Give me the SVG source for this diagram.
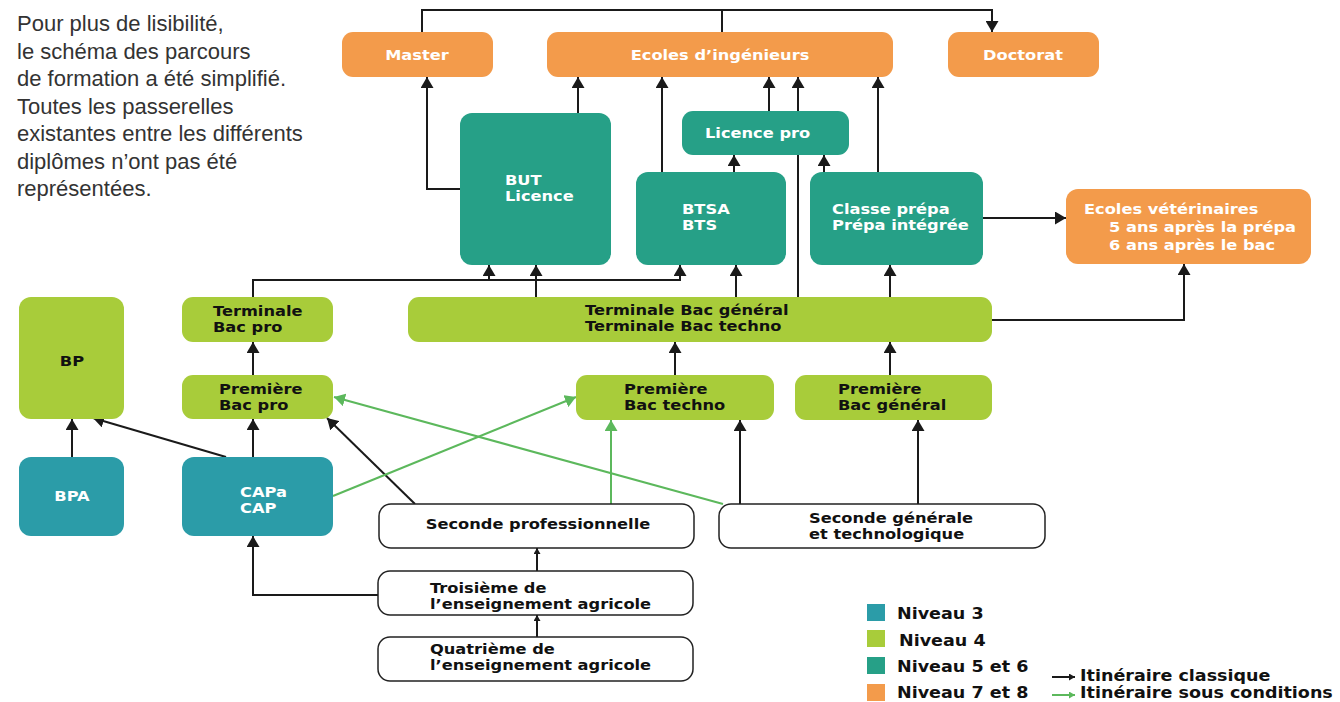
<svg xmlns="http://www.w3.org/2000/svg" width="1340" height="702" viewBox="0 0 1340 702">
<style>
.o{fill:#f39b4b}.g{fill:#a8cc3a}.t{fill:#26a087}.b{fill:#2b9ca8}.w{fill:#fff;stroke:#222;stroke-width:1.5}
.tx{font-family:"DejaVu Sans",Verdana,sans-serif;font-weight:bold;font-size:14px}
.wt{fill:#fff}.bk{fill:#111}
.c{fill:none;stroke:#1a1a1a;stroke-width:2}
.cg{fill:none;stroke:#5cb85c;stroke-width:2}
.p{font-family:"Liberation Sans",Arial,sans-serif;font-size:22px;fill:#333}
.lg{font-family:"DejaVu Sans",Verdana,sans-serif;font-weight:bold;font-size:15px;fill:#111}
</style>
<defs>
<marker id="ab" viewBox="0 0 10 10" refX="10" refY="5" markerWidth="11" markerHeight="13" markerUnits="userSpaceOnUse" orient="auto" preserveAspectRatio="none"><path d="M0,0 L10,5 L0,10 z" fill="#1a1a1a"/></marker>
<marker id="ag" viewBox="0 0 10 10" refX="10" refY="5" markerWidth="11" markerHeight="13" markerUnits="userSpaceOnUse" orient="auto" preserveAspectRatio="none"><path d="M0,0 L10,5 L0,10 z" fill="#5cb85c"/></marker>
<marker id="as" viewBox="0 0 10 10" refX="10" refY="5" markerWidth="6" markerHeight="7" markerUnits="userSpaceOnUse" orient="auto" preserveAspectRatio="none"><path d="M0,0 L10,5 L0,10 z" fill="#1a1a1a"/></marker>
<marker id="asg" viewBox="0 0 10 10" refX="10" refY="5" markerWidth="6" markerHeight="7" markerUnits="userSpaceOnUse" orient="auto" preserveAspectRatio="none"><path d="M0,0 L10,5 L0,10 z" fill="#5cb85c"/></marker>
</defs>
<rect width="1340" height="702" fill="#fff"/>

<g id="note">
<text class="p" x="17" y="31">Pour plus de lisibilité,</text>
<text class="p" x="17" y="58.5">le schéma des parcours</text>
<text class="p" x="17" y="86">de formation a été simplifié.</text>
<text class="p" x="17" y="113.5">Toutes les passerelles</text>
<text class="p" x="17" y="141">existantes entre les différents</text>
<text class="p" x="17" y="168.5">diplômes n’ont pas été</text>
<text class="p" x="17" y="196">représentées.</text>
</g>

<g id="connectors">
<path class="c" d="M422,32 V10 H992 V32" marker-end="url(#ab)"/>
<path class="c" d="M722,10 V32"/>
<path class="c" d="M460,189 H427 V77" marker-end="url(#ab)"/>
<path class="c" d="M578,113 V77" marker-end="url(#ab)"/>
<path class="c" d="M662,172 V77" marker-end="url(#ab)"/>
<path class="c" d="M769,111 V77" marker-end="url(#ab)"/>
<path class="c" d="M798,297 V77" marker-end="url(#ab)"/>
<path class="c" d="M878,172 V77" marker-end="url(#ab)"/>
<path class="c" d="M734,172 V155" marker-end="url(#ab)"/>
<path class="c" d="M824,172 V155" marker-end="url(#ab)"/>
<path class="c" d="M253,297 V280 H680 V265" marker-end="url(#ab)"/>
<path class="c" d="M489,280 V265" marker-end="url(#ab)"/>
<path class="c" d="M536,297 V265" marker-end="url(#ab)"/>
<path class="c" d="M736,297 V265" marker-end="url(#ab)"/>
<path class="c" d="M890,297 V265" marker-end="url(#ab)"/>
<path class="c" d="M983,218 H1066" marker-end="url(#ab)"/>
<path class="c" d="M992,320 H1184 V264" marker-end="url(#ab)"/>
<path class="c" d="M675,375 V342" marker-end="url(#ab)"/>
<path class="c" d="M890,375 V342" marker-end="url(#ab)"/>
<path class="c" d="M253,375 V342" marker-end="url(#ab)"/>
<path class="c" d="M253,457 V419" marker-end="url(#ab)"/>
<path class="c" d="M72,457 V419" marker-end="url(#ab)"/>
<path class="c" d="M226,457 L93,418" marker-end="url(#ab)"/>
<path class="c" d="M415,504 L327,418" marker-end="url(#ab)"/>
<path class="c" d="M740,504 V420" marker-end="url(#ab)"/>
<path class="c" d="M918,504 V420" marker-end="url(#ab)"/>
<path class="c" d="M379,595 H253 V536" marker-end="url(#ab)"/>
<path class="c" d="M537,571 V548" stroke-width="1.5" marker-end="url(#as)"/>
<path class="c" d="M537,637 V615" stroke-width="1.5" marker-end="url(#as)"/>
<path class="cg" d="M611,504 V420" marker-end="url(#ag)"/>
<path class="cg" d="M723,504 L334,397" marker-end="url(#ag)"/>
<path class="cg" d="M333,496 L576,397" marker-end="url(#ag)"/>
</g>

<g id="master"><rect class="o" x="342" y="32" width="151" height="45" rx="11"/><text class="tx wt" text-anchor="middle" transform="translate(417,59.5) scale(1.16,1)">Master</text></g>
<g id="ecoles-ing"><rect class="o" x="547" y="32" width="346" height="45" rx="11"/><text class="tx wt" text-anchor="middle" transform="translate(720,59.5) scale(1.16,1)">Ecoles d’ingénieurs</text></g>
<g id="doctorat"><rect class="o" x="948" y="32" width="151" height="45" rx="11"/><text class="tx wt" text-anchor="middle" transform="translate(1023,59.5) scale(1.16,1)">Doctorat</text></g>
<g id="but"><rect class="t" x="460" y="113" width="151" height="152" rx="12"/><text class="tx wt" transform="translate(505,185) scale(1.16,1)"><tspan x="0">BUT</tspan><tspan x="0" dy="16">Licence</tspan></text></g>
<g id="licence-pro"><rect class="t" x="682" y="111" width="167" height="44" rx="11"/><text class="tx wt" transform="translate(705,138) scale(1.16,1)">Licence pro</text></g>
<g id="btsa"><rect class="t" x="636" y="172" width="150" height="93" rx="12"/><text class="tx wt" transform="translate(682,214) scale(1.16,1)"><tspan x="0">BTSA</tspan><tspan x="0" dy="16">BTS</tspan></text></g>
<g id="prepa"><rect class="t" x="810" y="172" width="173" height="93" rx="12"/><text class="tx wt" transform="translate(832,214) scale(1.16,1)"><tspan x="0">Classe prépa</tspan><tspan x="0" dy="16">Prépa intégrée</tspan></text></g>
<g id="veto"><rect class="o" x="1066" y="189" width="245" height="75" rx="12"/><text class="tx wt" transform="translate(1084,214) scale(1.16,1)">Ecoles vétérinaires</text><text class="tx wt" transform="translate(1109,232) scale(1.16,1)"><tspan x="0">5 ans après la prépa</tspan><tspan x="0" dy="18">6 ans après le bac</tspan></text></g>
<g id="terminale-gt"><rect class="g" x="408" y="297" width="584" height="45" rx="11"/><text class="tx bk" transform="translate(585,315) scale(1.16,1)"><tspan x="0">Terminale Bac général</tspan><tspan x="0" dy="16">Terminale Bac techno</tspan></text></g>
<g id="terminale-pro"><rect class="g" x="182" y="297" width="151" height="45" rx="11"/><text class="tx bk" transform="translate(213,316) scale(1.16,1)"><tspan x="0">Terminale</tspan><tspan x="0" dy="16">Bac pro</tspan></text></g>
<g id="bp"><rect class="g" x="19" y="297" width="105" height="122" rx="12"/><text class="tx bk" text-anchor="middle" transform="translate(72,366) scale(1.16,1)">BP</text></g>
<g id="premiere-pro"><rect class="g" x="182" y="375" width="151" height="44" rx="11"/><text class="tx bk" transform="translate(219,394) scale(1.16,1)"><tspan x="0">Première</tspan><tspan x="0" dy="16">Bac pro</tspan></text></g>
<g id="premiere-techno"><rect class="g" x="576" y="375" width="198" height="45" rx="11"/><text class="tx bk" transform="translate(624,394) scale(1.16,1)"><tspan x="0">Première</tspan><tspan x="0" dy="16">Bac techno</tspan></text></g>
<g id="premiere-gen"><rect class="g" x="795" y="375" width="197" height="45" rx="11"/><text class="tx bk" transform="translate(838,394) scale(1.16,1)"><tspan x="0">Première</tspan><tspan x="0" dy="16">Bac général</tspan></text></g>
<g id="bpa"><rect class="b" x="19" y="457" width="105" height="79" rx="12"/><text class="tx wt" text-anchor="middle" transform="translate(72,501) scale(1.16,1)">BPA</text></g>
<g id="cap"><rect class="b" x="182" y="457" width="151" height="79" rx="12"/><text class="tx wt" transform="translate(240,497) scale(1.16,1)"><tspan x="0">CAPa</tspan><tspan x="0" dy="16">CAP</tspan></text></g>
<g id="seconde-pro"><rect class="w" x="379" y="504" width="315" height="44" rx="12"/><text class="tx bk" text-anchor="middle" transform="translate(538,528.5) scale(1.16,1)">Seconde professionnelle</text></g>
<g id="seconde-gt"><rect class="w" x="719" y="504" width="326" height="44" rx="12"/><text class="tx bk" transform="translate(809,523) scale(1.16,1)"><tspan x="0">Seconde générale</tspan><tspan x="0" dy="16">et technologique</tspan></text></g>
<g id="troisieme"><rect class="w" x="378" y="571" width="315" height="44" rx="12"/><text class="tx bk" transform="translate(430,593) scale(1.16,1)"><tspan x="0">Troisième de</tspan><tspan x="0" dy="16">l’enseignement agricole</tspan></text></g>
<g id="quatrieme"><rect class="w" x="378" y="637" width="315" height="44" rx="12"/><text class="tx bk" transform="translate(430,654) scale(1.16,1)"><tspan x="0">Quatrième de</tspan><tspan x="0" dy="16">l’enseignement agricole</tspan></text></g>

<g id="legend">
<rect class="b" x="867" y="604" width="18" height="17"/>
<rect class="g" x="867" y="630" width="18" height="17"/>
<rect class="t" x="867" y="657" width="18" height="17"/>
<rect class="o" x="867" y="684" width="18" height="17"/>
<text class="lg" transform="translate(897,619) scale(1.17,1)">Niveau 3</text>
<text class="lg" transform="translate(899,646) scale(1.17,1)">Niveau 4</text>
<text class="lg" transform="translate(897,672) scale(1.17,1)">Niveau 5 et 6</text>
<text class="lg" transform="translate(897,698) scale(1.17,1)">Niveau 7 et 8</text>
<path class="c" d="M1052,677 H1075" stroke-width="1.5" marker-end="url(#as)"/>
<path class="cg" d="M1052,695 H1075" stroke-width="1.5" marker-end="url(#asg)"/>
<text class="lg" transform="translate(1080,681) scale(1.17,1)">Itinéraire classique</text>
<text class="lg" transform="translate(1080,698) scale(1.17,1)">Itinéraire sous conditions</text>
</g>
</svg>
